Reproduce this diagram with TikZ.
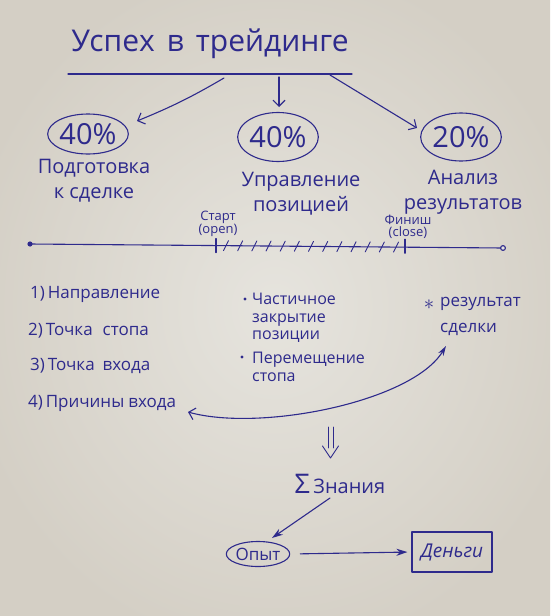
\documentclass[tikz,border=0pt]{standalone}
\usepackage{fontspec}
\setmainfont{Open Sans}
\usetikzlibrary{shapes.geometric,arrows.meta}
\definecolor{ink}{RGB}{46,42,140}
\definecolor{paperin}{RGB}{230,228,222}
\definecolor{paperout}{RGB}{212,207,197}
\begin{document}
\begin{tikzpicture}[x=1pt,y=-1pt,
  every node/.style={text=ink,inner sep=0pt},
  pen/.style={draw=ink,line width=1.1pt,line cap=round,line join=round},
  barb/.style={pen,-{Straight Barb[length=6pt,width=12pt,line width=1.1pt]}},
  stl/.style={pen,-{Stealth[length=11pt,width=7pt]}},
  titlef/.style={font=\fontsize{30}{34}\selectfont},
  pctf/.style={font=\fontsize{29}{30}\selectfont},
  labf/.style={font=\fontsize{20}{25}\selectfont,align=center},
  smallf/.style={font=\fontsize{13}{12}\selectfont,align=center},
  listf/.style={font=\fontsize{17}{20}\selectfont,anchor=west},
  midf/.style={font=\fontsize{16}{17.5}\selectfont,align=left,anchor=west},
  resf/.style={font=\fontsize{17}{26}\selectfont,align=left,anchor=west},
  pctbox/.style={pen,ellipse,pctf},
]
\useasboundingbox (0,0) rectangle (550,616);
\begin{scope}
\clip (0,0) rectangle (550,616);
\shade[inner color=paperin,outer color=paperout] (-40,-40) rectangle (590,656);
\end{scope}

% title
\node[titlef] (title) at (210,44) {Успех\hspace{12pt}в\hspace{12pt}трейдинге};
\coordinate (ul) at (68,74);
\coordinate (ur) at (352,74);
\draw[pen] (ul) -- (ur);

% percentages
\node[pctbox,minimum width=78pt,minimum height=40pt] (e1) at (88,134) {40\%};
\node[pctbox,minimum width=77pt,minimum height=49pt] (e2) at (278,137) {40\%};
\node[pctbox,minimum width=78pt,minimum height=48pt] (e3) at (461,137) {20\%};

\coordinate (a1s) at (224,78);  \coordinate (a1e) at (137,121);
\coordinate (a2s) at (279,77);  \coordinate (a2e) at (279,107);
\coordinate (a3s) at (330,75);  \coordinate (a3e) at (417,128);
\draw[barb] (a1s) to[bend left=4] (a1e);
\draw[barb] (a2s) -- (a2e);
\draw[barb] (a3s) -- (a3e);

\node[labf] (l1) at (94,181) {Подготовка\\к сделке};
\node[labf] (l2) at (301,194) {Управление\\позицией};
\node[labf] (l3) at (463,192) {Анализ\\результатов};

% timeline
\coordinate (tl) at (30,244);
\coordinate (tr) at (503,248);
\draw[pen] (tl) -- (tr);
\fill[ink] (tl) circle (2.6pt);
\draw[pen,fill=paperin] (tr) circle (2.4pt);
\coordinate (ts) at (216,245.6);
\coordinate (tf) at (405,247.2);
\draw[pen] ([yshift=7pt]ts) -- ([yshift=-7pt]ts);
\draw[pen] ([yshift=8pt]tf) -- ([yshift=-6pt]tf);
\foreach \i in {0,...,12}{
  \pgfmathsetmacro\xx{226+\i*14.17}
  \pgfmathsetmacro\yy{244+(\xx-30)*4/473}
  \draw[pen,line width=0.9pt] (\xx-2.5,\yy+5) -- (\xx+2.5,\yy-5);
}
\node[smallf] (st) at (218,224) {Старт\\(open)};
\node[smallf] (fi) at (408,227) {Финиш\\(close)};

% list
\node[listf] (li1) at (30,294) {1)\,Направление};
\node[listf] (li2) at (28,331) {2)\,Точка\hspace{10pt}стопа};
\node[listf] (li3) at (30,366) {3)\,Точка\hspace{8pt}входа};
\node[listf] (li4) at (28,403) {4)\,Причины\hspace{4pt}входа};

% middle
\fill[ink] (245,299) circle (1.7pt);
\node[midf] (m1) at (252,318) {Частичное\\закрытие\\позиции};
\fill[ink] (242,357) circle (1.7pt);
\node[midf] (m2) at (252,367) {Перемещение\\стопа};

% right
\node[font=\fontsize{22}{22}\selectfont] (star) at (429,305) {$\ast$};
\node[resf] (res) at (440,316) {результат\\сделки};

% curved double arrow
\coordinate (c1) at (188,412);
\coordinate (c2) at (446,346);
\draw[pen,{Straight Barb[length=6pt,width=12pt,line width=1.1pt]}-{Stealth[length=10pt,width=6pt]}]
  (c1) .. controls (260,432) and (412,402) .. (c2);

% implies arrow
\node[font=\fontsize{20}{20}\selectfont] (zn) at (340,484) {{\fontsize{27}{27}\selectfont Σ}\,Знания};
\coordinate (d1) at (328,427);
\coordinate (d1b) at (333,427);
\coordinate (d2) at (328,448);
\coordinate (d2b) at (333,448);
\coordinate (dtip) at (330.5,458);
\draw[pen,line width=0.9pt] (d1) -- (d2);
\draw[pen,line width=0.9pt] (d1b) -- (d2b);
\draw[pen,line width=0.9pt] ([xshift=-8pt,yshift=12pt]dtip) -- (dtip) -- ([xshift=8pt,yshift=12pt]dtip);

% bottom
\node[pen,ellipse,minimum width=60pt,minimum height=25pt,font=\fontsize{17}{17}\selectfont] (opyt) at (258,554) {Опыт};
\node[pen,rectangle,minimum width=80pt,minimum height=40pt,font=\itshape\fontsize{19}{19}\selectfont] (den) at (452,552) {Деньги};
\coordinate (k1) at (330,498);
\coordinate (k2) at (272,538);
\draw[stl] (k1) -- (k2);
\draw[stl,shorten <=10pt,shorten >=4pt] (opyt.east) -- (den.west);
\end{tikzpicture}
\end{document}
